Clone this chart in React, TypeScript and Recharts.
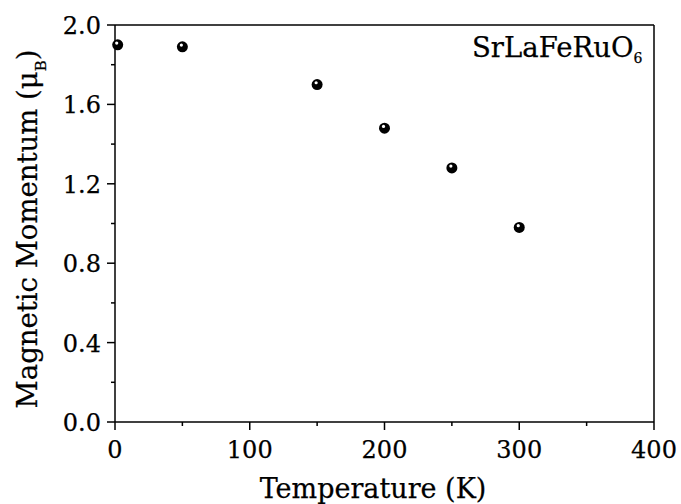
import React from 'react';
import { ScatterChart, Scatter, XAxis, YAxis, ReferenceLine, Customized } from 'recharts';

const temperatures = [2, 50, 150, 200, 250, 300];
const moments = [1.9, 1.89, 1.7, 1.48, 1.28, 0.98];
const xMajorTicks = [0, 100, 200, 300, 400];
const xMinorTicks = [50, 150, 250, 350];
const xTickLabels = ['0', '100', '200', '300', '400'];
const yMajorTicks = [0, 0.4, 0.8, 1.2, 1.6, 2.0];
const yMinorTicks = [0.2, 0.6, 1.0, 1.4, 1.8];
const yTickLabels = ['0.0', '0.4', '0.8', '1.2', '1.6', '2.0'];

const data = temperatures.map((t, i) => ({ t, m: moments[i] }));
const xTicks = [...xMajorTicks, ...xMinorTicks].sort((a, b) => a - b);
const yTicks = [...yMajorTicks, ...yMinorTicks].sort((a, b) => a - b);

const tickStyle = { fontFamily: "'DejaVu Serif', serif", fontSize: 24 };
const textStyle = { fontFamily: "'DejaVu Serif', serif" };

const XTick = (props: any) => {
  const { x, y, payload } = props;
  const idx = xMajorTicks.indexOf(payload.value);
  const major = idx >= 0;
  return (
    <g>
      <line x1={x} x2={x} y1={y} y2={y + (major ? 8 : 4)} stroke="#000" strokeWidth={1.5} />
      {major && (
        <text x={x} y={y + 36} textAnchor="middle" style={tickStyle} fill="#000" stroke="#000" strokeWidth={0.25}>
          {xTickLabels[idx]}
        </text>
      )}
    </g>
  );
};

const YTick = (props: any) => {
  const { x, y, payload } = props;
  const idx = yMajorTicks.indexOf(payload.value);
  const major = idx >= 0;
  return (
    <g>
      <line x1={x} x2={x - (major ? 8 : 4)} y1={y} y2={y} stroke="#000" strokeWidth={1.5} />
      {major && (
        <text x={x - 14} y={y + 9} textAnchor="end" style={tickStyle} fill="#000" stroke="#000" strokeWidth={0.25}>
          {yTickLabels[idx]}
        </text>
      )}
    </g>
  );
};

const Ball = (props: any) => {
  const { cx, cy } = props;
  return (
    <g>
      <circle cx={cx} cy={cy} r={5.5} fill="#000" />
      <circle cx={cx - 1} cy={cy - 1.8} r={1.6} fill="#fff" />
    </g>
  );
};

const Annotation = () => (
  <text x={472} y={57} style={{ ...textStyle, fontSize: 27.5 }} fill="#000" stroke="#000" strokeWidth={0.25}>
    SrLaFeRuO<tspan style={{ fontSize: 14 }} dy={6}>6</tspan>
  </text>
);

export default function App() {
  return (
    <div style={{ position: 'absolute', left: 0, top: 0, background: '#fff' }}>
      <ScatterChart width={681} height={504} margin={{ top: 25, right: 27, bottom: 0, left: 0 }}>
        <XAxis
          type="number"
          dataKey="t"
          domain={[0, 400]}
          ticks={xTicks}
          interval={0}
          tickSize={0}
          tickMargin={0}
          tickLine={false}
          tick={<XTick />}
          height={82}
          axisLine={{ stroke: '#000', strokeWidth: 1.5 }}
          label={{
            content: () => (
              <text x={373} y={498} textAnchor="middle" style={{ ...textStyle, fontSize: 27 }} fill="#000" stroke="#000" strokeWidth={0.25}>
                Temperature (K)
              </text>
            ),
          }}
        />
        <YAxis
          type="number"
          dataKey="m"
          domain={[0, 2]}
          ticks={yTicks}
          interval={0}
          tickSize={0}
          tickMargin={0}
          tickLine={false}
          tick={<YTick />}
          width={115}
          axisLine={{ stroke: '#000', strokeWidth: 1.5 }}
          label={{
            content: () => (
              <text transform="translate(37,229) rotate(-90)" textAnchor="middle" style={{ ...textStyle, fontSize: 27.5 }} fill="#000" stroke="#000" strokeWidth={0.25}>
                Magnetic Momentum (μ<tspan style={{ fontSize: 15 }} dy={9}>B</tspan>
                <tspan dy={-9}>)</tspan>
              </text>
            ),
          }}
        />
        <ReferenceLine y={2} stroke="#000" strokeWidth={1.5} />
        <ReferenceLine x={400} stroke="#000" strokeWidth={1.5} />
        <Scatter data={data} shape={<Ball />} isAnimationActive={false} />
        <Customized component={Annotation} />
      </ScatterChart>
    </div>
  );
}
